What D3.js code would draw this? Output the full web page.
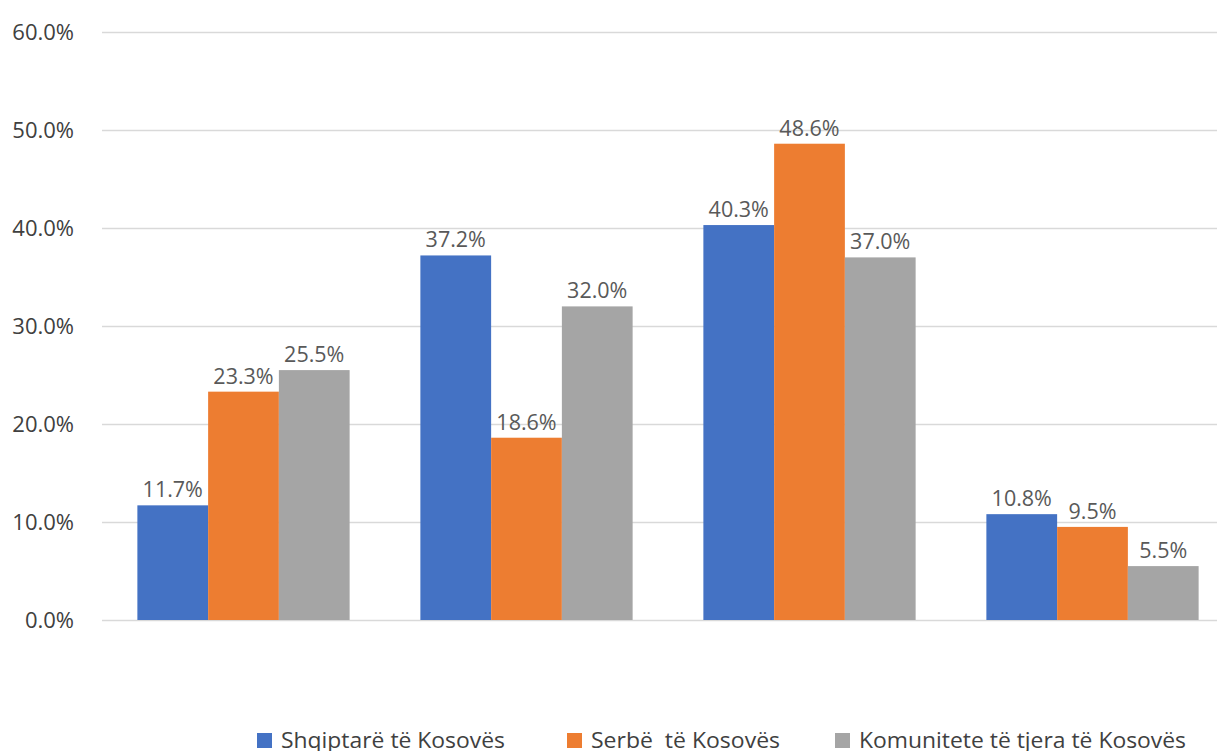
<!DOCTYPE html>
<html>
<head>
<meta charset="utf-8">
<script src="https://cdn.jsdelivr.net/npm/d3@7"></script>
<style>
  body { margin: 0; background: #fff; }
  svg { display: block; }
</style>
</head>
<body>
<div id="chart"></div>
<script>
// data
var categories = ["g1", "g2", "g3", "g4"];
var series = ["Shqiptarë të Kosovës", "Serbë  të Kosovës", "Komunitete të tjera të Kosovës"];
var shqiptare = [11.7, 37.2, 40.3, 10.8];
var serbe = [23.3, 18.6, 48.6, 9.5];
var komunitete = [25.5, 32.0, 37.0, 5.5];
var yTicks = [0, 10, 20, 30, 40, 50, 60];
var colors = ["#4472c4", "#ed7d31", "#a5a5a5"];

var W = 1217, H = 751;
var values = [shqiptare, serbe, komunitete];

var svg = d3.select("#chart").append("svg")
    .attr("width", W)
    .attr("height", H);

var x = d3.scaleBand()
    .domain(categories)
    .range([102, 1234])
    .paddingInner(0.25)
    .paddingOuter(0.125);

var xs = d3.scaleBand()
    .domain(d3.range(series.length))
    .range([0, x.bandwidth()]);

var y = d3.scaleLinear()
    .domain([0, 60])
    .range([620, 32]);

// gridlines + tick labels
var yAxis = d3.axisLeft(y)
    .tickValues(yTicks)
    .tickSize(-(W - 102))
    .tickPadding(28)
    .tickFormat(function(d) { return d3.format(".1f")(d) + "%"; });

var gy = svg.append("g")
    .attr("transform", "translate(102,0)")
    .call(yAxis);
gy.select(".domain").remove();
gy.selectAll(".tick line")
    .attr("stroke", "#d9d9d9")
    .attr("stroke-width", 1.5);
gy.selectAll(".tick text")
    .attr("fill", "#404040")
    .attr("font-family", "'Open Sans', sans-serif")
    .attr("font-size", "22px");

// bars
series.forEach(function(s, si) {
  var g = svg.append("g");
  g.selectAll("rect")
    .data(values[si])
    .join("rect")
      .attr("x", function(d, i) { return x(categories[i]) + xs(si); })
      .attr("y", function(d) { return y(d); })
      .attr("width", xs.bandwidth())
      .attr("height", function(d) { return y(0) - y(d); })
      .attr("fill", colors[si]);

  g.selectAll("text")
    .data(values[si])
    .join("text")
      .attr("x", function(d, i) { return x(categories[i]) + xs(si) + xs.bandwidth() / 2; })
      .attr("y", function(d) { return y(d) - 8; })
      .attr("text-anchor", "middle")
      .attr("fill", "#595959")
      .attr("font-family", "'Open Sans', sans-serif")
      .attr("font-size", "21.5px")
      .text(function(d) { return d3.format(".1f")(d) + "%"; });
});

// legend
var legendX = [257, 567, 835];
var legendW = [224, 189, 327];
var legend = svg.append("g");
series.forEach(function(s, si) {
  legend.append("rect")
    .attr("x", legendX[si])
    .attr("y", 733)
    .attr("width", 15)
    .attr("height", 15)
    .attr("fill", colors[si]);
  legend.append("text")
    .attr("x", legendX[si] + 24)
    .attr("y", 748)
    .attr("fill", "#404040")
    .attr("font-family", "'Open Sans', sans-serif")
    .attr("font-size", "22px")
    .attr("textLength", legendW[si])
    .attr("lengthAdjust", "spacingAndGlyphs")
    .style("white-space", "pre")
    .text(s);
});
</script>
</body>
</html>
